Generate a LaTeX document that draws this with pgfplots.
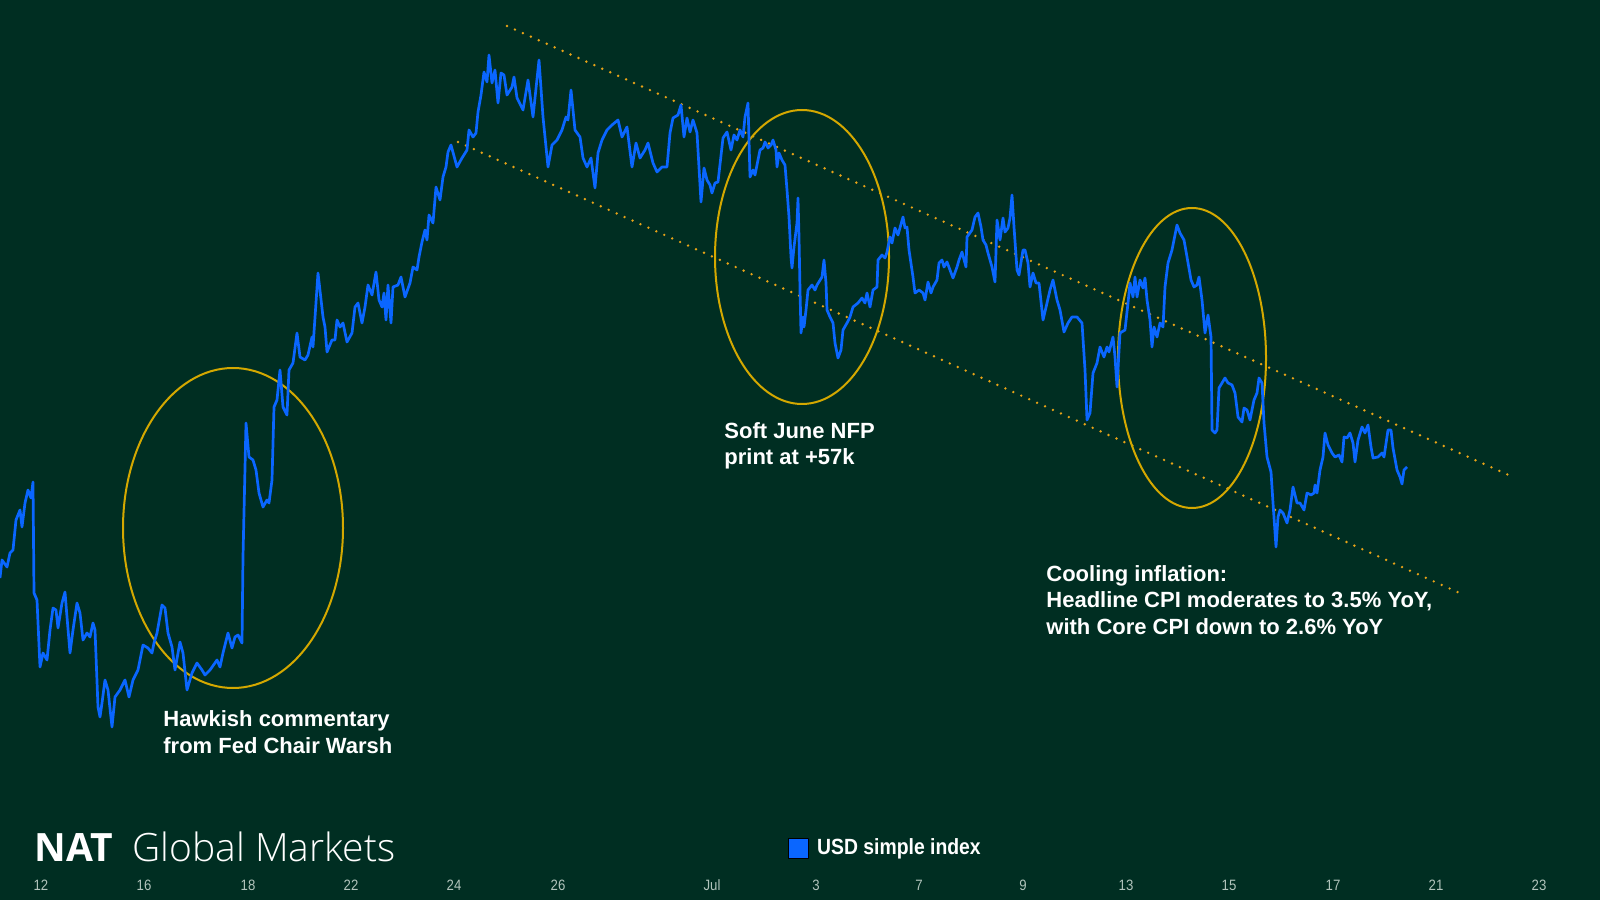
\documentclass[border=0pt]{standalone}
\usepackage{fontspec}
\setmainfont{Liberation Sans}
\newfontfamily\narrowfont{Liberation Sans}[FakeStretch=0.88]
\newfontfamily\logobold{Open Sans}
\IfFontExistsTF{Open Sans Light}{\newfontfamily\logolight{Open Sans Light}}{\newfontfamily\logolight{Open Sans}}
\usepackage{pgfplots}
\pgfplotsset{compat=1.18}
\definecolor{bgc}{HTML}{002E22}
\definecolor{usdblue}{HTML}{0A66FF}
\definecolor{ringc}{HTML}{D4A800}
\definecolor{dotc}{HTML}{E8A317}
\definecolor{tickc}{HTML}{B2C4BC}
\begin{document}
\begin{tikzpicture}
\begin{axis}[
  width=800pt, height=450pt, scale only axis,
  xmin=0, xmax=1600, ymin=0, ymax=900,
  clip=false,
  axis background/.style={fill=bgc},
  axis line style={draw=none},
  major tick length=0pt,
  ytick=\empty,
  xtick={41,144,248,351,454,558,712,816,919,1023,1126,1229,1333,1436,1539},
  xticklabels={12,16,18,22,24,26,Jul,3,7,9,13,15,17,21,23},
  xticklabel style={font=\narrowfont\fontsize{7.5}{8}\selectfont, text=tickc, anchor=base, yshift=5pt},
  legend style={at={(axis cs:788,52)}, anchor=west, draw=none, fill=none, inner sep=0pt,
    font=\narrowfont\bfseries\fontsize{11}{12}\selectfont, text=white},
  legend cell align=left,
  legend image code/.code={\filldraw[fill=usdblue, draw=black, line width=0.4pt] (0pt,-5pt) rectangle (10pt,5pt);},
  legend style={/tikz/every even column/.append style={column sep=0pt}, nodes={inner xsep=4pt}},
]
% channel lines
\addplot[forget plot, dotc, line width=1.35pt, line cap=round, dash pattern=on 0pt off 4.35pt] coordinates {(507,874) (1513,423)};
\addplot[forget plot, dotc, line width=1.35pt, line cap=round, dash pattern=on 0pt off 4.35pt] coordinates {(458,758) (1464,305)};
% ellipses
\draw[ringc, line width=1pt] (axis cs:233,372) ellipse [x radius=55pt, y radius=80pt];
\draw[ringc, line width=1pt] (axis cs:802,643) ellipse [x radius=43.5pt, y radius=73.5pt];
\draw[ringc, line width=1pt] (axis cs:1192,542) ellipse [x radius=37pt, y radius=75pt];
% USD simple index
\addplot[usdblue, line width=1.35pt, line join=round, mark=none] coordinates {
(0,322)(2,340)(7,333)(10,347)(13,350)(16,380)(20,390)(22,373)(25,397)(28,410)(31,402)(33,418)(34,307)(37,300)(40,233)(43,247)(47,240)(50,270)(53,292)(56,290)(58,272)(62,297)(65,308)(67,283)(70,247)(73,270)(77,297)(80,287)(83,260)(87,267)(90,263)(93,277)(95,270)(98,193)(100,183)(102,197)(105,220)(108,210)(112,173)(115,203)(120,210)(125,220)(129,203)(133,220)(138,230)(143,255)(148,252)(152,247)(154,257)(157,267)(162,295)(165,292)(168,267)(172,253)(175,230)(180,258)(183,247)(187,210)(192,227)(197,237)(202,230)(205,225)(210,230)(217,240)(220,233)(223,247)(228,267)(232,252)(235,263)(238,265)(242,257)(243,343)
(246,477)(249,443)(253,440)(256,430)(259,407)(263,393)(267,400)(269,397)(272,420)(274,493)(277,500)(280,530)(283,493)(287,485)(289,530)(293,537)(297,567)(300,543)(305,540)(308,545)(312,563)(313,553)(318,627)(323,583)(325,573)(327,548)(332,560)(335,560)(337,580)(340,573)(343,577)(347,558)(352,567)(355,593)(358,597)(362,577)(365,593)(368,615)(372,605)(376,628)(379,600)(382,593)(384,607)(386,580)(388,615)(391,577)(393,613)(398,615)(401,623)(405,603)(410,617)(413,633)(417,630)(419,643)(422,658)(425,670)(427,660)(429,685)(433,677)(436,713)(440,700)(443,723)(446,733)(448,748)(451,755)(457,733)(462,742)(467,750)(469,770)(473,763)(476,767)(478,788)(481,805)(484,828)(487,818)(489,845)(492,817)(495,830)(498,797)(501,827)(504,825)(507,805)(512,813)(514,823)(517,802)(523,790)(528,820)
(533,783)(539,840)(543,783)(548,733)(552,755)(557,760)(562,770)(566,783)(568,780)(571,810)(575,770)(580,763)(583,742)(587,733)(591,742)(595,712)(598,747)(602,760)(607,770)(612,775)(618,780)(622,763)(627,773)(632,733)(636,757)(640,742)(645,750)(648,757)(653,737)(657,728)(662,733)(667,733)(670,767)(673,782)(678,785)(681,795)(684,763)(687,782)(690,768)(693,780)(697,767)(701,698)(704,732)(707,720)(710,715)(712,707)(715,717)(718,718)(723,762)(727,768)(731,750)(734,765)(737,760)(740,770)(743,763)(745,783)(748,797)(749,760)(750,723)(753,730)(755,725)(758,740)(760,750)(763,752)(765,758)(768,752)(771,755)(773,760)(776,750)(777,733)(779,747)(782,740)(785,735)(787,710)(789,683)(791,643)(792,632)(794,653)(797,677)(798,702)(799,663)(800,610)(801,567)(803,583)(804,573)(806,590)(808,610)(812,615)(815,610)(817,615)(822,623)(824,640)(826,617)(827,590)(830,583)(833,577)(835,557)(838,542)(841,550)(843,570)(847,577)(850,583)(853,593)(858,597)(862,602)(865,597)(867,607)(870,593)(873,610)(877,613)
(878,640)(882,645)(885,642)(887,648)(890,663)(892,657)(895,672)(898,665)(903,683)(905,672)(907,673)(909,650)(913,623)(915,607)(919,610)(923,607)(925,600)(928,618)(931,607)(933,613)(937,620)(939,637)(942,640)(944,633)(947,638)(950,630)(953,622)(957,633)(959,640)(962,648)(966,633)(967,663)(972,670)(975,683)(978,687)(981,673)(983,660)(986,655)(988,647)(992,633)(995,618)(997,680)(1000,660)(1003,682)(1005,668)(1008,672)(1010,682)(1012,705)(1014,673)(1017,630)(1019,625)(1023,650)(1025,650)(1028,637)(1030,613)(1033,627)(1036,617)(1039,617)(1043,580)(1047,597)(1050,610)(1053,620)(1057,600)(1060,590)(1064,568)(1068,577)(1072,583)(1077,583)(1082,577)(1085,530)(1087,480)(1090,487)(1093,527)(1097,537)(1100,553)(1104,543)(1107,553)(1109,548)(1113,563)(1115,543)(1117,513)(1120,567)(1125,570)(1128,597)(1130,617)(1133,603)(1135,623)(1137,603)(1140,620)(1143,612)(1145,622)(1147,600)(1150,580)(1152,553)(1154,573)(1157,563)(1160,577)(1163,573)(1165,613)(1168,637)(1172,650)(1177,675)(1180,667)(1184,660)(1187,643)(1191,620)(1194,613)(1197,615)(1199,623)(1202,600)(1205,567)(1208,585)(1211,563)
(1212,470)(1215,467)(1217,470)(1219,512)(1222,517)(1225,522)(1228,517)(1232,515)(1235,507)(1238,483)(1242,478)(1244,492)(1247,490)(1250,480)(1254,500)(1257,507)(1259,522)(1262,517)(1264,477)(1267,443)(1271,428)(1273,397)(1276,353)(1278,383)(1280,390)(1283,387)(1287,377)(1290,390)(1293,413)(1297,397)(1300,397)(1304,390)(1307,407)(1311,405)(1314,407)(1315,415)(1317,407)(1320,430)(1323,443)(1325,467)(1328,455)(1332,447)(1335,443)(1339,445)(1342,438)(1344,463)(1347,462)(1350,467)(1353,457)(1355,438)(1358,460)(1362,473)(1365,467)(1368,475)(1371,453)(1373,442)(1378,443)(1382,447)(1384,443)(1388,470)(1391,470)(1393,452)(1397,430)(1400,423)(1402,416)(1404,430)(1407,433)
};
\addlegendentry{USD simple index}
% annotations
\node[anchor=west, align=left, inner sep=0pt, text=white, font=\bfseries\fontsize{11}{13.25}\selectfont] at (axis cs:163,168) {Hawkish commentary\\from Fed Chair Warsh};
\node[anchor=west, align=left, inner sep=0pt, text=white, font=\bfseries\fontsize{11}{13.25}\selectfont] at (axis cs:724,454) {Soft June NFP\\print at +57k};
\node[anchor=west, align=left, inner sep=0pt, text=white, font=\bfseries\fontsize{11}{13.25}\selectfont] at (axis cs:1046,300) {Cooling inflation:\\Headline CPI moderates to 3.5\% YoY,\\with Core CPI down to 2.6\% YoY};
% logo
\node[anchor=base west, inner sep=0pt, text=white, font=\logobold\bfseries\fontsize{19.5}{24}\selectfont] at (axis cs:34,39) {NAT};
\node[anchor=base west, inner sep=0pt, text=white, font=\logolight\fontsize{19.5}{24}\selectfont] at (axis cs:132,39) {Global Markets};
\end{axis}
\pgfresetboundingbox
\path (0,0) rectangle (800pt,450pt);
\end{tikzpicture}
\end{document}
